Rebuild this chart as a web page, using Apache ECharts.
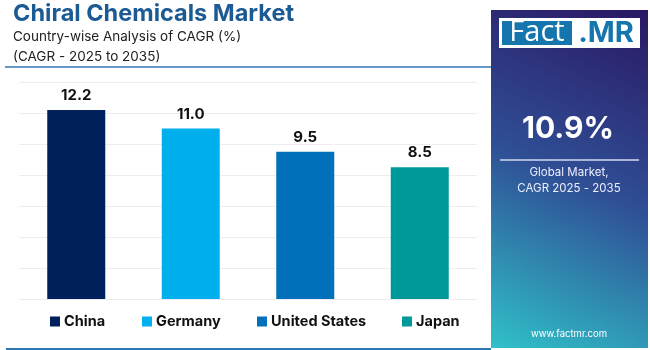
<!DOCTYPE html>
<html><head><meta charset="utf-8">
<script src="https://cdn.jsdelivr.net/npm/echarts@6/dist/echarts.min.js"></script>
<style>html,body{margin:0;padding:0;background:#fff}#c{width:650px;height:350px}</style>
</head><body><div id="c"></div>
<script>
const categories = ['China', 'Germany', 'United States', 'Japan'];
const values = [12.2, 11.0, 9.5, 8.5];
const colors = ['#00205b', '#00b0ec', '#0070bb', '#00999a'];
const yTicks = [0, 2, 4, 6, 8, 10, 12, 14];
const legendLeft = [50, 142, 257, 402];

const chart = echarts.init(document.getElementById('c'), null, {renderer: 'canvas'});
const FONT = 'Inter, "Open Sans", sans-serif';

const series = categories.map((name, i) => ({
  name: name,
  type: 'bar',
  stack: 'all',
  barWidth: 58,
  itemStyle: {color: colors[i]},
  label: {show: true, position: 'top', distance: 7, color: '#111', fontWeight: 'bold', fontSize: 15, fontFamily: FONT,
    formatter: p => p.value.toFixed(1)},
  data: categories.map((c, j) => j === i ? values[i] : '-')
}));

chart.setOption({
  animation: false,
  grid: {left: 19, right: 173, top: 82, bottom: 51},
  xAxis: {type: 'category', data: categories, axisLine: {show: false}, axisTick: {show: false}, axisLabel: {show: false}},
  yAxis: {type: 'value', min: yTicks[0], max: yTicks[yTicks.length - 1], interval: 2,
    axisLabel: {show: false}, axisLine: {show: false}, axisTick: {show: false},
    splitLine: {lineStyle: {color: '#ececf2', width: 1}}},
  legend: categories.map((name, i) => ({
    data: [name], left: legendLeft[i], top: 314, padding: 0, itemWidth: 10, itemHeight: 10, itemGap: 4,
    icon: 'rect', textStyle: {fontFamily: FONT, fontWeight: 'bold', fontSize: 14.5, color: '#111', padding: [0, 0, 0, -1]}
  })),
  series: series,
  graphic: [
    {type: 'text', left: 13, top: 2, style: {text: 'Chiral Chemicals Market', fontFamily: FONT, fontWeight: 'bold', fontSize: 23.5, fill: '#1b5a92'}},
    {type: 'text', left: 13, top: 30, style: {text: 'Country-wise Analysis of CAGR (%)', fontFamily: FONT, fontSize: 13.5, fill: '#222'}},
    {type: 'text', left: 13, top: 50, style: {text: '(CAGR - 2025 to 2035)', fontFamily: FONT, fontSize: 13.5, fill: '#222'}},
    {type: 'line', shape: {x1: 5, y1: 67, x2: 491, y2: 67}, style: {stroke: '#2f77b0', lineWidth: 1.5}},
    {type: 'line', shape: {x1: 6, y1: 349, x2: 491, y2: 349}, style: {stroke: '#2f77b0', lineWidth: 2}},
    {type: 'rect', shape: {x: 491, y: 10, width: 157, height: 338},
      style: {fill: new echarts.graphic.LinearGradient(1, 0, 0, 1, [
        {offset: 0, color: '#2b1763'}, {offset: 0.5, color: '#2f4f95'}, {offset: 1, color: '#30c1c9'}])}},
    {type: 'rect', shape: {x: 499, y: 18, width: 141, height: 30}, style: {fill: '#ffffff'}},
    {type: 'rect', shape: {x: 502, y: 21, width: 70, height: 24}, style: {fill: '#1576ad'}},
    {type: 'text', x: 537, y: 33, style: {text: 'Fact', fontFamily: '"Open Sans", sans-serif', fontSize: 29, fill: '#fff', align: 'center', verticalAlign: 'middle'}},
    {type: 'text', x: 606, y: 33, style: {text: '.MR', fontFamily: FONT, fontWeight: 'bold', fontSize: 29, fill: '#1576ad', align: 'center', verticalAlign: 'middle'}},
    {type: 'text', x: 568, y: 129, style: {text: '10.9%', fontFamily: FONT, fontWeight: 'bold', fontSize: 30, fill: '#fff', align: 'center', verticalAlign: 'middle'}},
    {type: 'line', shape: {x1: 500, y1: 160, x2: 639, y2: 160}, style: {stroke: '#a9b6da', lineWidth: 2}},
    {type: 'text', x: 569, y: 173, style: {text: 'Global Market,', fontFamily: FONT, fontSize: 11.5, fill: '#eef', align: 'center', verticalAlign: 'middle'}},
    {type: 'text', x: 569, y: 189, style: {text: 'CAGR 2025 - 2035', fontFamily: FONT, fontSize: 11.5, fill: '#eef', align: 'center', verticalAlign: 'middle'}},
    {type: 'text', x: 569, y: 334, style: {text: 'www.factmr.com', fontFamily: FONT, fontSize: 9.5, fill: '#fff', align: 'center', verticalAlign: 'middle'}}
  ]
});
</script></body></html>
